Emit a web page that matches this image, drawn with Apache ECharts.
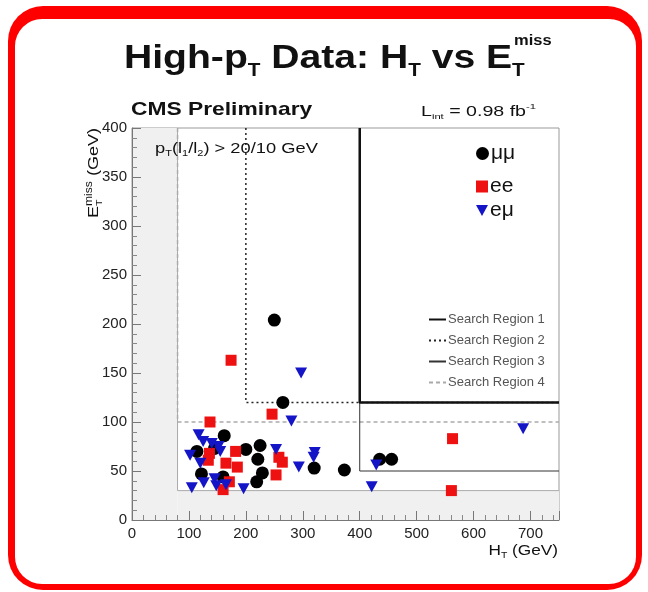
<!DOCTYPE html>
<html>
<head>
<meta charset="utf-8">
<script src="https://cdn.jsdelivr.net/npm/echarts@6/dist/echarts.min.js"></script>
<style>
html,body{margin:0;padding:0;background:#fff;}
#chart{width:648px;height:592px;}
</style>
</head>
<body>
<div id="chart"></div>
<script>
// ---------------- data ----------------
const mumu = [[250,204],[265,120],[162,86],[114,70],[145,73],[200,72],[225,76],[221,62],
  [122,47],[160,44],[219,39],[229,48],[320,53],[373,51],[435,62],[456,62]];
const ee = [[174,163],[246,108],[137,100],[182,70],[136,68],[134,61],[165,58],[185,54],
  [258,64],[264,59],[253,46],[171,39],[160,31],[563,83],[561,30]];
const emu = [[297,150],[280,101],[117,87],[125,80],[140,78],[152,75],[155,70],[102,66],
  [120,58],[253,72],[293,54],[321,69],[319,64],[105,33],[126,38],[145,42],[148,35],
  [165,36],[196,32],[687,93],[429,56],[421,34]];
const region1 = [[400,400],[400,120],[750,120]];
const region2 = [[200,400],[200,120],[750,120]];
const region3 = [[400,400],[400,50],[750,50]];
const region4 = [[80,400],[80,100],[750,100]];
const baseline = [[80,400],[80,30],[750,30]];
const shadedAreas = [[[0,0],[80,400]],[[80,0],[750,30]]];
const seriesNames = ['\u03bc\u03bc','ee','e\u03bc'];
const regionNames = ['Search Region 1','Search Region 2','Search Region 3','Search Region 4'];
const xRange = [0,750], yRange = [0,400];
const xStep = 100, yStep = 50;

// ---------------- style ----------------
const FONT = '"Liberation Sans", Arial, Helvetica, sans-serif';
const RED = '#ee1111', BLUE = '#1515c8';
const TRI = 'path://M0,0L10,0L5,9Z';

function rich(base, sub, weight, subLH){
  weight = weight || 'normal';
  const slh = subLH || Math.round(sub*1.15);
  return {
    n:{fontSize:base, fontWeight:weight, fontFamily:FONT, lineHeight:Math.round(base*1.25), verticalAlign:'middle', fill:'#111'},
    s:{fontSize:sub, fontWeight:weight, fontFamily:FONT, lineHeight:slh, verticalAlign:'bottom', fill:'#111'},
    p:{fontSize:sub, fontWeight:weight, fontFamily:FONT, lineHeight:slh, verticalAlign:'top', fill:'#111'}
  };
}
function txt(o){ return Object.assign({fontFamily:FONT, fill:'#111'}, o); }

const chart = echarts.init(document.getElementById('chart'), null, {renderer:'canvas'});

const axisCommon = {
  type:'value', z:20,
  axisLine:{show:true, lineStyle:{color:'#777', width:1}},
  axisTick:{show:true, inside:true, length:9, lineStyle:{color:'#777'}},
  minorTick:{show:true, splitNumber:5, length:5, lineStyle:{color:'#888'}},
  splitLine:{show:false}
};

const option = {
  animation:false,
  backgroundColor:'#fff',
  grid:{left:132, right:89, top:128, bottom:72, show:true, borderColor:'#999', borderWidth:1, backgroundColor:'transparent'},
  xAxis:Object.assign({}, axisCommon, {
    min:xRange[0], max:xRange[1], interval:xStep,
    axisLabel:{fontSize:15, color:'#222', fontFamily:FONT, margin:6,
      formatter:function(v){ return v % xStep === 0 ? String(v) : ''; }}
  }),
  yAxis:Object.assign({}, axisCommon, {
    min:yRange[0], max:yRange[1], interval:yStep,
    axisLabel:{fontSize:15, color:'#222', fontFamily:FONT, margin:5}
  }),
  legend:[
    {data:[seriesNames[0]], left:471, top:138, itemWidth:13, itemHeight:13, textStyle:{fontSize:21, color:'#111', fontFamily:FONT, padding:[0,0,0,-3]}, selectedMode:false},
    {data:[seriesNames[1]], left:471, top:171, itemWidth:12, itemHeight:12, textStyle:{fontSize:21, color:'#111', fontFamily:FONT, padding:[0,0,0,-3]}, selectedMode:false},
    {data:[seriesNames[2]], left:471, top:195, itemWidth:12, itemHeight:12, textStyle:{fontSize:21, color:'#111', fontFamily:FONT, padding:[0,0,0,-3]}, selectedMode:false},
    {data:regionNames, orient:'vertical', left:423, top:308, itemWidth:17, itemHeight:11, itemGap:8,
      itemStyle:{opacity:0},
      textStyle:{fontSize:13, color:'#555', fontFamily:FONT, padding:[0,0,0,-3]}, selectedMode:false}
  ],
  series:[
    {name:'baseline', type:'line', data:baseline, symbol:'none', silent:true, z:1,
      lineStyle:{color:'#aaa', width:1},
      markArea:{silent:true, itemStyle:{color:'#f0f0f0'},
        data:shadedAreas.map(function(a){ return [{coord:a[0]},{coord:a[1]}]; })}},
    {name:regionNames[3], type:'line', data:region4, symbol:'none', z:2,
      lineStyle:{color:'#aaa', width:1.5, type:[4,3]}, itemStyle:{color:'#aaa'}},
    {name:regionNames[2], type:'line', data:region3, symbol:'none', z:2,
      lineStyle:{color:'#333', width:1}, itemStyle:{color:'#333'}},
    {name:regionNames[1], type:'line', data:region2, symbol:'none', z:2,
      lineStyle:{color:'#222', width:1.5, type:[2,3]}, itemStyle:{color:'#222'}},
    {name:regionNames[0], type:'line', data:region1, symbol:'none', z:2,
      lineStyle:{color:'#111', width:2.5}, itemStyle:{color:'#111'}},
    {name:seriesNames[0], type:'scatter', data:mumu, symbol:'circle', symbolSize:13, z:5,
      itemStyle:{color:'#000', opacity:1}},
    {name:seriesNames[1], type:'scatter', data:ee, symbol:'rect', symbolSize:11, z:5,
      itemStyle:{color:RED, opacity:1}},
    {name:seriesNames[2], type:'scatter', data:emu, symbol:TRI, symbolSize:[12,11], z:5,
      itemStyle:{color:BLUE, opacity:1}}
  ],
  graphic:[
    {type:'rect', z:-100, shape:{x:8, y:6, width:634, height:584, r:35}, style:{fill:'#ff0000'}},
    {type:'rect', z:-99, shape:{x:15, y:19, width:621, height:565, r:27}, style:{fill:'#ffffff'}},
    // main title
    {type:'text', z:100, x:124, y:37, scaleX:1.15,
      style:{text:'{n|High-p}{s|T}{n| Data: H}{s|T}{n| vs E}{s|T}', rich:rich(34,18,'bold',29), textAlign:'left', textVerticalAlign:'top'}},
    {type:'text', z:100, x:514, y:41, scaleX:1.1,
      style:txt({text:'miss', fontSize:15, fontWeight:'bold', textAlign:'left', textVerticalAlign:'middle'})},
    // CMS Preliminary
    {type:'text', z:100, x:131, y:110, scaleX:1.2,
      style:txt({text:'CMS Preliminary', fontSize:19, fontWeight:'bold', textAlign:'left', textVerticalAlign:'middle'})},
    // luminosity
    {type:'text', z:100, x:421, y:103, scaleX:1.4,
      style:{text:'{n|L}{s|int}{n| = 0.98 fb}{p|-1}', rich:rich(14,8), textAlign:'left', textVerticalAlign:'top'}},
    // pT cut
    {type:'text', z:100, x:155, y:139, scaleX:1.22,
      style:{text:'{n|p}{s|T}{n|(l}{s|1}{n|/l}{s|2}{n|) > 20/10 GeV}', rich:rich(15,9), textAlign:'left', textVerticalAlign:'top'}},
    // x axis title
    {type:'text', z:100, x:558, y:541, scaleX:1.15,
      style:{text:'{n|H}{s|T}{n| (GeV)}', rich:rich(15,9), textAlign:'right', textVerticalAlign:'top'}},
    // y axis title (rotated), pieces: (GeV), miss, E, T
    {type:'text', z:100, x:94, y:128, rotation:Math.PI/2, scaleX:1.2,
      style:txt({text:'(GeV)', fontSize:15, textAlign:'right', textVerticalAlign:'middle'})},
    {type:'text', z:100, x:89, y:206, rotation:Math.PI/2, scaleX:1.2,
      style:txt({text:'miss', fontSize:10, textAlign:'left', textVerticalAlign:'middle'})},
    {type:'text', z:100, x:94, y:206, rotation:Math.PI/2, scaleX:1.2,
      style:txt({text:'E', fontSize:15, textAlign:'right', textVerticalAlign:'middle'})},
    {type:'text', z:100, x:100, y:206, rotation:Math.PI/2, scaleX:1.2,
      style:txt({text:'T', fontSize:9, textAlign:'left', textVerticalAlign:'middle'})}
  ]
};
chart.setOption(option);
</script>
</body>
</html>
